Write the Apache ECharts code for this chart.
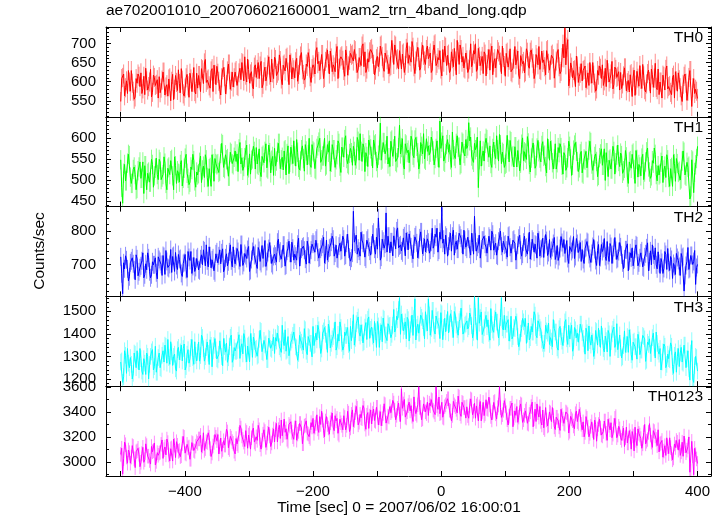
<!DOCTYPE html>
<html><head><meta charset="utf-8">
<script src="https://cdn.jsdelivr.net/npm/echarts@6/dist/echarts.min.js"></script>
<style>html,body{margin:0;padding:0;background:#fff}#c{width:724px;height:516px}</style>
</head><body><div id="c"></div>
<script>
const titleText = 'ae702001010_20070602160001_wam2_trn_4band_long.qdp';
const xName = 'Time [sec] 0 = 2007/06/02 16:00:01';
const yName = 'Counts/sec';
const bandNames = ['TH0', 'TH1', 'TH2', 'TH3', 'TH0123'];
const timeStart = -500, timeStep = 1.5;

const th0 = [
548,608,611,620,563,584,602,569,629,599,575,629,596,575,554,560,608,596,620,614,587,623,569,581,614,566,635,602,578,587,599,632,560,572,617,611,590,593,605,557,
613,571,583,604,625,625,565,586,592,562,607,610,550,601,619,553,580,616,598,577,631,595,571,634,604,568,562,583,610,619,589,559,622,607,574,598,637,574,568,622,
583,616,616,574,634,631,595,649,658,598,604,607,589,583,628,634,574,643,619,592,640,622,601,580,565,610,631,637,613,568,592,628,646,646,580,601,625,586,610,625,
629,590,587,623,635,605,650,647,602,665,617,599,659,632,596,620,626,587,581,638,644,611,632,650,608,641,653,584,593,626,638,602,614,644,665,617,599,659,623,608,
664,658,616,622,628,670,655,607,592,643,646,628,661,664,625,592,670,649,607,637,631,610,652,661,601,619,643,667,676,631,619,604,610,646,640,676,661,613,598,634,
644,638,620,680,689,647,653,629,632,671,671,608,611,653,662,683,647,620,680,662,626,644,638,626,674,692,608,635,659,665,668,656,629,614,683,668,617,641,656,674,
669,672,654,684,681,648,624,633,663,663,642,693,699,639,678,624,633,660,651,678,684,687,672,645,618,630,660,666,639,651,693,696,666,636,627,675,675,657,645,621,
639,642,708,675,645,696,693,657,660,633,681,681,633,672,675,624,642,687,702,648,669,666,651,705,690,639,621,654,678,690,663,630,636,678,696,669,654,645,684,693,
660,666,675,624,630,681,696,699,642,648,663,657,681,633,615,684,651,693,690,642,669,672,624,630,678,660,639,687,654,618,708,678,645,696,684,651,666,636,633,675,
657,624,633,657,699,639,648,681,672,699,627,633,687,666,642,654,666,621,678,672,615,645,660,684,630,675,693,618,651,660,636,636,684,678,669,651,621,693,663,642,
614,674,677,638,656,686,626,623,635,659,692,644,659,680,617,608,668,665,647,653,623,626,686,677,641,635,677,683,662,647,608,620,671,662,644,692,632,629,680,650,
657,639,618,681,684,648,630,630,669,672,660,609,609,654,675,684,639,621,627,663,698,662,740,644,690,710,589,608,649,638,610,629,631,587,667,641,598,614,622,647,
602,629,632,641,584,605,623,590,650,620,596,650,617,596,575,581,629,617,641,635,608,644,590,602,635,587,656,623,599,608,620,653,581,593,638,632,611,614,626,578,
624,582,594,615,636,636,576,597,603,573,618,621,561,612,630,564,591,627,609,588,642,606,582,645,615,579,573,594,621,630,600,570,633,618,585,609,648,585,579,633,
566,599,599,557,617,614,578,632,641,581,587,590,572,566,611,617,557,626,602,575,623,605,584,563,548,593,614,620,596,551,575,611,629,629,535,584,608,569,580,575,
556];

const th1 = [
548,483,445,516,537,498,498,540,561,558,507,492,492,525,531,513,477,480,522,531,543,504,504,543,468,534,534,477,516,519,495,495,549,537,483,510,528,552,513,501,
549,543,501,507,513,555,540,492,477,528,531,513,546,549,510,477,555,534,492,522,516,495,537,546,486,504,528,552,561,516,504,489,495,531,525,561,546,498,483,519,
512,515,542,557,494,524,533,506,560,548,506,485,527,530,485,560,539,497,551,539,536,539,518,521,563,587,584,530,527,560,548,551,509,509,566,563,539,536,554,569,
544,562,520,574,589,538,553,523,532,553,571,583,511,529,562,514,547,550,580,568,526,577,538,535,574,520,508,556,559,541,568,586,529,526,583,565,517,547,556,511,
575,533,545,566,587,587,527,548,554,524,569,572,512,563,581,515,542,578,560,539,593,557,533,596,566,530,524,545,572,581,551,521,584,569,536,560,599,536,530,584,
569,566,527,524,575,581,590,599,542,548,557,557,599,533,536,584,566,593,521,542,584,572,572,530,548,560,593,587,533,518,578,578,554,596,605,551,539,536,563,575,
565,535,580,568,535,550,601,592,547,610,568,544,586,577,520,565,556,532,595,583,574,556,529,595,583,586,544,529,559,571,635,547,550,589,589,562,571,604,538,553,
532,592,595,556,574,604,544,541,553,577,630,562,577,598,535,526,586,583,565,571,541,544,604,595,559,553,595,601,580,565,526,538,589,580,562,610,550,547,598,568,
581,560,566,602,593,569,536,551,575,593,554,530,640,575,590,605,545,542,563,584,596,566,584,548,530,614,572,557,551,587,605,578,578,536,539,590,587,563,557,596,
575,581,636,593,602,557,548,542,587,572,578,602,482,548,593,533,557,569,545,587,599,596,566,554,581,539,530,575,590,560,551,605,572,545,608,584,539,566,563,530,
537,540,606,573,543,594,591,555,558,531,579,579,531,570,573,522,540,585,600,546,567,564,549,603,588,537,519,552,576,588,561,528,534,576,594,567,552,543,582,591,
556,559,532,517,598,574,547,592,571,541,526,550,586,526,541,577,565,586,577,535,514,565,559,523,529,553,592,580,550,511,535,571,583,589,568,544,520,529,562,568,
517,514,550,547,568,529,529,571,592,589,538,523,523,556,562,544,508,511,553,562,574,535,535,574,499,565,565,508,547,550,526,526,580,568,514,541,559,583,544,532,
564,558,516,522,528,570,555,507,492,543,546,528,561,564,525,492,570,549,507,537,531,510,552,561,501,519,543,567,576,531,519,504,510,546,540,576,561,513,498,534,
512,515,542,557,494,524,533,506,560,548,506,485,527,530,485,560,539,497,551,539,518,521,500,503,545,569,566,512,509,542,530,533,455,462,548,545,470,518,536,551,
580];

const th2 = [
723,672,612,705,687,726,714,687,651,663,705,711,720,702,684,654,729,717,666,678,690,696,711,735,660,669,702,684,735,720,678,660,669,708,699,699,720,675,657,723,
715,709,700,667,727,724,670,742,709,691,688,700,745,676,724,727,679,736,697,685,730,715,718,673,664,703,706,730,685,661,739,721,712,739,673,694,721,679,691,718,
723,684,681,717,729,699,744,741,696,759,711,693,753,726,690,714,720,681,675,732,738,705,726,744,702,735,747,678,687,720,732,696,708,738,759,711,693,753,717,702,
724,748,739,712,694,760,760,697,706,733,727,718,745,754,679,682,715,739,754,727,733,700,688,751,742,709,703,757,718,721,772,694,709,736,748,766,730,703,697,724,
731,725,707,767,776,734,740,716,719,758,758,695,698,740,749,770,734,707,767,749,713,731,725,713,761,779,695,722,746,752,755,743,716,701,770,755,704,728,743,761,
767,761,737,773,779,737,719,722,746,752,761,782,704,728,773,713,734,749,752,767,785,776,725,734,758,719,716,755,764,740,743,785,776,725,728,764,791,746,722,710,
719,734,860,767,761,788,731,749,740,725,797,773,764,764,722,716,773,779,752,740,728,758,791,797,746,731,782,746,840,782,713,722,776,770,749,761,855,737,785,785,
735,768,768,726,786,783,747,801,810,750,756,759,741,735,780,786,726,795,771,744,792,774,753,732,717,762,783,789,765,720,744,780,798,798,732,753,777,738,762,777,
767,734,743,767,809,749,758,791,782,809,737,743,797,776,872,764,776,731,788,782,725,755,770,794,740,785,803,728,761,770,746,746,794,788,779,761,731,803,773,752,
746,782,776,746,728,794,767,731,845,767,740,752,761,788,719,716,773,773,785,761,752,734,734,785,779,743,800,791,743,755,764,728,725,770,782,800,755,737,770,758,
761,743,722,785,788,752,734,734,773,776,764,713,713,758,779,788,743,725,731,767,785,749,752,731,767,797,716,740,776,770,737,761,758,719,794,773,725,746,749,779,
721,760,790,772,727,736,775,721,742,751,763,781,715,727,757,712,724,748,784,766,751,775,733,733,772,718,703,754,760,739,745,784,718,724,778,763,736,745,766,709,
745,715,703,748,751,769,766,730,718,706,733,754,775,745,712,697,742,760,697,721,760,739,748,778,724,712,769,727,709,763,754,703,730,751,781,742,715,718,739,766,
753,729,705,687,717,744,744,762,681,711,735,720,750,696,714,747,759,756,696,705,720,735,741,693,690,723,732,750,765,681,708,741,699,759,729,714,750,699,687,738,
703,673,718,706,673,688,739,730,685,748,706,682,724,715,658,703,694,670,733,721,712,694,667,733,721,724,620,667,697,709,751,685,688,727,727,700,709,742,640,691,
700];

const th3 = [
1275,1280,1185,1210,1325,1305,1225,1335,1270,1250,1295,1265,1200,1225,1315,1310,1250,1325,1280,1240,1335,1290,1235,1220,1290,1270,1220,1315,1300,1200,1265,1300,1320,1330,1240,1255,1345,1230,1230,1295,
1315,1250,1245,1305,1325,1275,1350,1345,1270,1375,1295,1265,1365,1320,1260,1300,1310,1245,1235,1330,1340,1285,1320,1350,1280,1335,1355,1240,1255,1310,1330,1270,1290,1340,1375,1295,1265,1365,1305,1280,
1319,1364,1279,1304,1394,1384,1334,1279,1299,1339,1364,1314,1264,1374,1349,1254,1324,1349,1379,1329,1289,1284,1309,1369,1369,1299,1259,1379,1344,1319,1359,1274,1294,1344,1384,1394,1274,1289,1339,1324,
1321,1326,1371,1396,1291,1341,1356,1311,1401,1381,1311,1276,1346,1351,1276,1401,1366,1296,1386,1366,1331,1336,1301,1306,1376,1416,1411,1321,1316,1371,1351,1356,1286,1286,1381,1376,1336,1331,1361,1386,
1313,1383,1368,1403,1398,1343,1333,1318,1438,1368,1348,1418,1323,1328,1388,1303,1298,1363,1373,1393,1408,1408,1343,1338,1283,1313,1393,1373,1363,1348,1328,1423,1418,1323,1308,1388,1383,1358,1358,1298,
1433,1348,1353,1403,1373,1438,1418,1373,1313,1333,1403,1413,1428,1398,1368,1318,1443,1423,1338,1358,1378,1388,1413,1453,1328,1343,1398,1368,1453,1428,1358,1328,1343,1408,1393,1393,1428,1353,1323,1433,
1370,1420,1485,1350,1380,1445,1460,1475,1405,1390,1440,1405,1360,1365,1430,1450,1375,1465,1475,1380,1420,1430,1390,1360,1455,1410,1340,1455,1435,1340,1410,1440,1365,1470,1465,1395,1395,1370,1445,1435,
1438,1383,1398,1438,1508,1408,1423,1478,1463,1508,1560,1398,1488,1453,1413,1433,1453,1378,1473,1463,1368,1418,1443,1483,1393,1468,1555,1373,1428,1443,1403,1403,1483,1473,1458,1428,1378,1498,1448,1413,
1555,1484,1394,1424,1504,1504,1414,1399,1479,1459,1464,1434,1379,1494,1489,1374,1429,1469,1409,1449,1499,1404,1444,1489,1469,1419,1384,1499,1484,1439,1419,1394,1454,1464,1514,1514,1399,1409,1439,1444,
1457,1422,1432,1492,1477,1437,1382,1407,1565,1477,1412,1372,1560,1447,1472,1497,1397,1392,1427,1462,1482,1432,1462,1402,1372,1512,1442,1417,1407,1467,1497,1452,1452,1382,1387,1472,1560,1427,1417,1482,
1418,1443,1443,1463,1368,1403,1478,1378,1388,1428,1423,1478,1453,1388,1343,1363,1403,1423,1468,1453,1433,1468,1358,1398,1448,1373,1383,1433,1408,1408,1498,1483,1393,1383,1458,1448,1428,1418,1373,1358,
1333,1358,1438,1413,1403,1448,1353,1383,1368,1343,1463,1423,1408,1408,1338,1328,1423,1433,1388,1368,1348,1398,1453,1463,1378,1353,1438,1378,1413,1438,1323,1338,1428,1418,1383,1403,1363,1363,1443,1443,
1405,1380,1355,1310,1425,1405,1325,1435,1370,1350,1395,1365,1300,1325,1415,1410,1350,1425,1380,1340,1435,1390,1335,1320,1390,1370,1320,1415,1400,1300,1365,1400,1420,1430,1340,1355,1445,1330,1330,1395,
1338,1293,1298,1348,1413,1318,1353,1388,1318,1418,1383,1308,1283,1363,1368,1343,1343,1288,1398,1373,1308,1328,1328,1393,1388,1378,1278,1283,1363,1353,1378,1313,1313,1383,1403,1338,1293,1408,1358,1323,
1310,1335,1240,1275,1320,1355,1345,1250,1265,1310,1290,1285,1360,1345,1255,1225,1305,1320,1230,1300,1335,1255,1315,1340,1275,1270,1350,1350,1250,1290,1325,1245,1195,1315,1370,1200,1185,1260,1300,1295,
1235];

const th0123 = [
3062,3111,2905,3027,3160,3139,3041,2992,3097,3076,2992,3041,3132,3125,3027,2957,3083,3090,3111,3062,2964,2999,3069,3118,2999,3020,3146,3132,3048,3048,3013,2985,3125,3083,3090,3153,2978,3006,3076,3055,
3072,3079,3142,3177,3030,3100,3121,3058,3184,3156,3058,3009,3107,3114,3009,3184,3135,3037,3163,3135,3086,3093,3044,3051,3149,3205,3198,3072,3065,3142,3114,3121,3023,3023,3156,3149,3093,3086,3128,3163,
3150,3185,3185,3213,3080,3129,3234,3094,3108,3164,3157,3234,3199,3108,3045,3073,3129,3157,3220,3199,3171,3220,3066,3122,3192,3087,3101,3171,3136,3136,3262,3241,3115,3101,3206,3192,3164,3150,3087,3066,
3188,3146,3132,3223,3293,3272,3209,3181,3160,3125,3251,3237,3111,3216,3230,3104,3195,3251,3272,3160,3146,3202,3174,3293,3258,3139,3104,3174,3223,3258,3244,3118,3153,3230,3279,3209,3125,3153,3216,3265,
3161,3259,3308,3161,3259,3294,3189,3336,3210,3217,3343,3238,3266,3182,3168,3301,3287,3322,3238,3203,3182,3273,3329,3175,3224,3245,3308,3308,3273,3147,3147,3287,3294,3329,3231,3224,3203,3189,3315,3280,
3349,3230,3279,3307,3377,3265,3237,3363,3300,3405,3335,3251,3202,3328,3363,3300,3272,3223,3314,3342,3391,3279,3251,3370,3328,3349,3230,3216,3342,3314,3293,3258,3370,3356,3258,3293,3405,3391,3244,3272,
3381,3416,3283,3332,3395,3444,3430,3297,3318,3381,3353,3346,3451,3430,3304,3262,3374,3395,3269,3367,3416,3304,3388,3423,3332,3325,3437,3437,3297,3353,3402,3290,3346,3388,3465,3458,3311,3311,3367,3360,
3443,3394,3408,3492,3471,3415,3338,3373,3429,3471,3380,3324,3585,3429,3464,3499,3359,3352,3401,3450,3478,3408,3450,3366,3324,3520,3422,3387,3373,3457,3600,3436,3436,3338,3345,3464,3457,3401,3387,3478,
3372,3470,3449,3498,3491,3414,3400,3379,3600,3449,3421,3519,3386,3393,3477,3358,3351,3442,3456,3484,3505,3505,3414,3407,3330,3372,3484,3456,3442,3421,3393,3526,3519,3386,3365,3477,3470,3435,3435,3351,
3441,3371,3350,3448,3504,3497,3378,3406,3469,3350,3448,3462,3329,3441,3483,3329,3399,3476,3371,3385,3497,3427,3420,3518,3455,3364,3336,3399,3476,3483,3385,3343,3434,3455,3600,3434,3357,3378,3413,3490,
3450,3394,3338,3296,3366,3429,3429,3471,3282,3352,3408,3373,3443,3317,3359,3436,3464,3457,3317,3338,3373,3408,3422,3310,3303,3380,3401,3443,3478,3282,3345,3422,3324,3464,3394,3359,3443,3324,3296,3415,
3274,3260,3435,3337,3288,3295,3400,3393,3323,3435,3372,3281,3260,3358,3358,3330,3281,3253,3421,3372,3344,3309,3302,3400,3393,3379,3232,3246,3365,3344,3330,3288,3267,3386,3407,3323,3309,3421,3379,3302,
3258,3321,3202,3237,3363,3349,3279,3202,3230,3286,3321,3251,3181,3335,3300,3167,3265,3300,3342,3272,3216,3209,3244,3328,3328,3230,3174,3342,3293,3258,3314,3195,3223,3293,3349,3363,3195,3216,3286,3265,
3195,3174,3230,3272,3125,3195,3279,3153,3153,3251,3202,3104,3244,3209,3090,3279,3174,3132,3265,3230,3216,3188,3111,3146,3237,3300,3146,3167,3181,3237,3307,3216,3160,3118,3251,3244,3209,3181,3132,3258,
3082,3145,3152,3173,3040,3089,3131,3054,3194,3124,3068,3194,3117,3068,3019,3033,3145,3117,3173,3159,3096,3180,3054,3082,3159,3047,3208,3131,3075,3096,3124,3201,2920,2930,3166,3050,2900,3110,3060,3026,
2990];

const errHalf = [25, 23, 27, 37, 58];
const xRange = [-523, 421];
const xTickValues = [-500, -400, -300, -200, -100, 0, 100, 200, 300, 400];
const xLabelValues = [-400, -200, 0, 200, 400];
const yRanges = [[508, 743], [437, 650], [604, 874], [1168, 1566], [2890, 3605]];
const yLabelValues = [[550, 600, 650, 700], [450, 500, 550, 600], [700, 800], [1200, 1300, 1400, 1500], [3000, 3200, 3400, 3600]];
const yMinorStep = [10, 10, 20, 20, 100];
const lineColors = ['#ff0000', '#00ff00', '#0000ff', '#00ffff', '#ff00ff'];
const errColors = ['rgba(255,0,0,0.45)', 'rgba(0,255,0,0.45)', 'rgba(0,0,255,0.45)', 'rgba(0,255,255,0.45)', 'rgba(255,0,255,0.45)'];

const bands = [th0, th1, th2, th3, th0123];
const FONT = '"Liberation Sans", Arial, Helvetica, sans-serif';
const plotLeft = 106, plotWidth = 605, panelTop = 27, panelH = 89.8;

function minorValues(r, step, majors) {
  const out = [];
  for (let v = Math.ceil(r[0] / step) * step; v <= r[1]; v += step) if (majors.indexOf(v) < 0) out.push(v);
  return out;
}
const fmtX = v => v < 0 ? '\u2212' + Math.abs(v) : String(v);
const fmtY = v => String(v);

const grids = [], xAxes = [], yAxes = [], series = [], graphics = [];
for (let i = 0; i < 5; i++) {
  const top = panelTop + i * panelH;
  grids.push({left: plotLeft, width: plotWidth, top: top, height: panelH, containLabel: false});
  const axLine = {show: true, onZero: false, lineStyle: {color: '#000', width: 1}};
  ['bottom', 'top'].forEach(pos => {
    xAxes.push({
      gridIndex: i, type: 'value', position: pos, min: xRange[0], max: xRange[1],
      axisLine: axLine,
      axisTick: {show: true, inside: true, length: 5, customValues: xTickValues, lineStyle: {color: '#000', width: 1}},
      axisLabel: {show: pos === 'bottom' && i === 4, customValues: xLabelValues, formatter: fmtX,
        fontSize: 15, color: '#000', fontFamily: FONT, margin: 8},
      splitLine: {show: false}
    });
  });
  const r = yRanges[i];
  const majors = yLabelValues[i];
  const minors = minorValues(r, yMinorStep[i], majors);
  ['left', 'right'].forEach(pos => {
    yAxes.push({
      gridIndex: i, type: 'value', position: pos, min: r[0], max: r[1],
      axisLine: axLine,
      axisTick: {show: true, inside: true, length: 5, customValues: majors, lineStyle: {color: '#000', width: 1}},
      axisLabel: {show: pos === 'left', customValues: majors, formatter: fmtY, fontSize: 15, color: '#000', fontFamily: FONT, margin: 10},
      splitLine: {show: false}
    });
    yAxes.push({
      gridIndex: i, type: 'value', position: pos, min: r[0], max: r[1],
      axisLine: {show: false, onZero: false},
      axisTick: {show: true, inside: true, length: 3, customValues: minors, lineStyle: {color: '#000', width: 1}},
      axisLabel: {show: false},
      splitLine: {show: false}
    });
  });
  const vals = bands[i];
  const pts = vals.map((v, k) => [timeStart + k * timeStep, v]);
  const errPts = vals.map((v, k) => [timeStart + k * timeStep, v, errHalf[i]]);
  const ec = errColors[i];
  series.push({
    type: 'custom', xAxisIndex: i * 2, yAxisIndex: i * 4, data: errPts, clip: true, silent: true, z: 2,
    renderItem: (params, api) => {
      const x = api.value(0), y = api.value(1), e = api.value(2);
      const p1 = api.coord([x, y - e]), p2 = api.coord([x, y + e]);
      return {type: 'line', shape: {x1: p1[0], y1: p1[1], x2: p2[0], y2: p2[1]}, style: {stroke: ec, lineWidth: 1}};
    }
  });
  series.push({
    type: 'line', xAxisIndex: i * 2, yAxisIndex: i * 4, data: pts, showSymbol: false, symbol: 'none',
    lineStyle: {color: lineColors[i], width: 1}, silent: true, z: 3, clip: true
  });
  graphics.push({type: 'text', right: 724 - 703, top: top + 3,
    style: {text: bandNames[i], font: '15.5px ' + FONT, fill: '#000'}, z: 10});
}
graphics.push({type: 'text', left: 106, top: 3, style: {text: titleText, font: '15.5px ' + FONT, fill: '#000'}});
graphics.push({type: 'text', x: 399, y: 508, style: {text: xName, font: '15.5px ' + FONT, fill: '#000', align: 'center', verticalAlign: 'middle'}});
graphics.push({type: 'text', x: 40, y: 251, rotation: Math.PI / 2, style: {text: yName, font: '15.5px ' + FONT, fill: '#000', align: 'center', verticalAlign: 'middle'}});

const chart = echarts.init(document.getElementById('c'), null, {renderer: 'canvas', width: 724, height: 516});
chart.setOption({
  animation: false,
  backgroundColor: '#fff',
  grid: grids, xAxis: xAxes, yAxis: yAxes, series: series, graphic: graphics
});
</script></body></html>
